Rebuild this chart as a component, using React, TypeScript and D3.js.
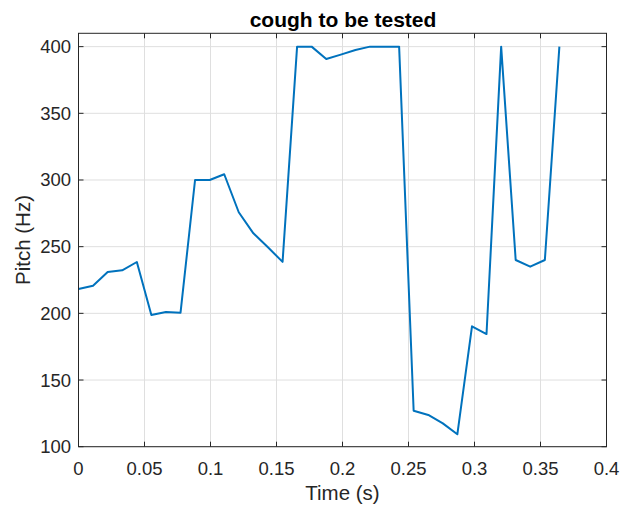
import React from "react";
import * as d3 from "d3";

const times = [0, 0.011, 0.0221, 0.0331, 0.0442, 0.0552, 0.0662, 0.0773, 0.0883, 0.0994, 0.1104, 0.1214, 0.1325, 0.1435, 0.1546, 0.1656, 0.1766, 0.1877, 0.1987, 0.2098, 0.2208, 0.2318, 0.2429, 0.2539, 0.265, 0.276, 0.287, 0.2981, 0.3091, 0.3202, 0.3312, 0.3422, 0.3533, 0.3643];
const pitch = [218.3, 220.7, 231, 232.3, 238.5, 198.8, 201, 200.5, 300, 300, 304.3, 275.8, 260, 249.5, 238.6, 400, 400, 390.7, 394, 397.5, 400, 400, 400, 127, 123.8, 117.5, 109.3, 190.3, 184.5, 400, 240, 235, 240, 400];
const xTicks = [0, 0.05, 0.1, 0.15, 0.2, 0.25, 0.3, 0.35, 0.4];
const xTickLabels = ["0", "0.05", "0.1", "0.15", "0.2", "0.25", "0.3", "0.35", "0.4"];
const yTicks = [100, 150, 200, 250, 300, 350, 400];

const W = 622;
const H = 509;
const L = 78.5, R = 606.5, T = 33.3, B = 446.7;
const font = "'Liberation Sans', Arial, Helvetica, sans-serif";
const axisColor = "#262626";

export default function App() {
  const x = d3.scaleLinear().domain([0, 0.4]).range([L, R]);
  const y = d3.scaleLinear().domain([100, 410]).range([B, T]);
  const line = d3
    .line<number>()
    .x((_, i) => x(times[i]))
    .y((d) => y(d));
  const path = line(pitch) || "";
  const tl = 5;
  return (
    <svg width={W} height={H} style={{ position: "absolute", left: 0, top: 0, background: "#fff" }}>
      <rect x={0} y={0} width={W} height={H} fill="#fff" />
      {xTicks.map((t) => (
        <line key={"gx" + t} x1={x(t)} x2={x(t)} y1={T} y2={B} stroke="#dfdfdf" strokeWidth={1} />
      ))}
      {yTicks.map((t) => (
        <line key={"gy" + t} x1={L} x2={R} y1={y(t)} y2={y(t)} stroke="#dfdfdf" strokeWidth={1} />
      ))}
      <path d={path} fill="none" stroke="#0072BD" strokeWidth={2} strokeLinejoin="round" />
      <rect x={L} y={T} width={R - L} height={B - T} fill="none" stroke={axisColor} strokeWidth={1} />
      {xTicks.map((t) => (
        <g key={"tx" + t}>
          <line x1={x(t)} x2={x(t)} y1={B} y2={B - tl} stroke={axisColor} />
          <line x1={x(t)} x2={x(t)} y1={T} y2={T + tl} stroke={axisColor} />
        </g>
      ))}
      {yTicks.map((t) => (
        <g key={"ty" + t}>
          <line x1={L} x2={L + tl} y1={y(t)} y2={y(t)} stroke={axisColor} />
          <line x1={R} x2={R - tl} y1={y(t)} y2={y(t)} stroke={axisColor} />
        </g>
      ))}
      {xTicks.map((t, i) => (
        <text key={"lx" + t} x={x(t)} y={468.5} textAnchor="middle" dominantBaseline="central" fontFamily={font} fontSize={18.5} fill={axisColor}>
          {xTickLabels[i]}
        </text>
      ))}
      {yTicks.map((t) => (
        <text key={"ly" + t} x={71} y={y(t)} textAnchor="end" dominantBaseline="central" fontFamily={font} fontSize={18.5} fill={axisColor}>
          {t}
        </text>
      ))}
      <text x={(L + R) / 2} y={492} textAnchor="middle" dominantBaseline="central" fontFamily={font} fontSize={20.5} fill={axisColor}>
        Time (s)
      </text>
      <text transform={`translate(22,${(T + B) / 2}) rotate(-90)`} textAnchor="middle" dominantBaseline="central" fontFamily={font} fontSize={20.5} fill={axisColor}>
        Pitch (Hz)
      </text>
      <text x={(L + R) / 2 + 0.5} y={19} textAnchor="middle" dominantBaseline="central" fontFamily={font} fontSize={21} fontWeight="bold" fill="#000">
        cough to be tested
      </text>
    </svg>
  );
}
